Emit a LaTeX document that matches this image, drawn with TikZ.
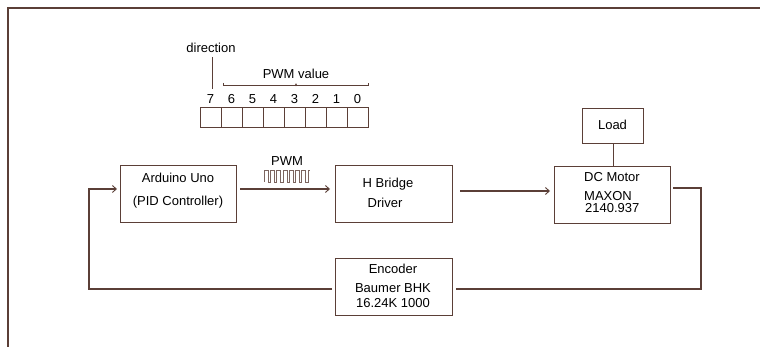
\documentclass[tikz,border=0pt]{standalone}
\usepackage{fontspec}
\setmainfont{Liberation Sans}
\usetikzlibrary{arrows.meta}
\definecolor{ln}{HTML}{5B3F37}
\tikzset{
  blk/.style={draw=ln, line width=1.4pt, inner sep=0pt, anchor=north west},
  cell/.style={draw=ln, line width=1.2pt, minimum width=21pt, minimum height=20pt, inner sep=0pt, anchor=north west},
  wire/.style={draw=ln, line width=1.4pt},
  arr/.style={wire, -{Straight Barb[length=4pt,width=7pt,line width=0.9pt]}},
  lbl/.style={font=\fontsize{13}{14}\selectfont, inner sep=0pt, text=black},
}
\begin{document}
\begin{tikzpicture}[x=1pt,y=-1pt]
\useasboundingbox (0,0) rectangle (760,347);
% frame
\draw[wire] (8,347) -- (8,8) -- (760,8);
% register
\foreach \i in {0,...,7} {
  \node[cell] (c\i) at ({200+21*\i},107) {};
  \pgfmathtruncatemacro{\b}{7-\i}
  \node[lbl] (d\i) at ({210.5+21*\i},99) {\b};
}
\node[lbl] (dir) at (211,48) {direction};
\coordinate (dirtop) at (212,57);
\coordinate (dirbot) at (212,89);
\draw[wire, line width=1pt] (dirtop) -- (dirbot);
\node[lbl] (pwmv) at (296,74) {PWM value};
\coordinate (brl) at (223,86);
\coordinate (brr) at (368,86);
\draw[wire, line width=1pt] ([yshift=3]brl) -- (brl) -- (brr) -- ([yshift=3]brr);
\draw[wire, line width=0.8pt] (295,86) -- (296,84) -- (297,86);
% blocks
\node[blk, minimum width=116pt, minimum height=57pt] (ard) at (120,165) {};
\node[lbl] at (178,178) {Arduino Uno};
\node[lbl] at (178,202) {(PID Controller)};
\node[blk, minimum width=117pt, minimum height=57pt] (hb) at (335,165) {};
\node[lbl] at (388,184) {H Bridge};
\node[lbl] at (385,203) {Driver};
\node[blk, minimum width=116pt, minimum height=57pt] (mot) at (554,166) {};
\node[lbl] at (612,177) {DC Motor};
\node[lbl, anchor=west] at (584,196) {MAXON};
\node[lbl, anchor=west] at (585,208) {2140.937};
\node[blk, minimum width=61pt, minimum height=35pt] (load) at (582,108) {};
\node[lbl] at (612.5,125) {Load};
\node[blk, minimum width=117pt, minimum height=57pt] (enc) at (335,258) {};
\node[lbl] at (393,269) {Encoder};
\node[lbl] at (393,288) {Baumer BHK};
\node[lbl] at (393,303) {16.24K 1000};
% PWM label and pulses
\node[lbl] (pwm) at (287,161) {PWM};
\draw[draw=ln!80, line width=0.8pt]
  (264,182) \foreach \k in {0,...,6} { -- ++(0,-12) -- ++(4,0) -- ++(0,12) -- ++(2.3,0) } -- ++(0,-12) -- ++(2,0);
% connectors
\coordinate (a1) at (240,189);
\coordinate (a2) at (330,189);
\draw[arr] (a1) -- (a2);
\coordinate (b1) at (460,191);
\coordinate (b2) at (550,191);
\draw[arr] (b1) -- (b2);
\draw[wire] (load.south) -- (load.south |- mot.north);
\coordinate (m1) at (673,188);
\coordinate (m2) at (701,188);
\coordinate (m3) at (701,289);
\coordinate (e1) at (456,289);
\draw[wire] (m1) -- (m2) -- (m3) -- (e1);
\coordinate (f1) at (332,289);
\coordinate (f2) at (89,289);
\coordinate (f3) at (89,189);
\coordinate (f4) at (117,189);
\draw[arr] (f1) -- (f2) -- (f3) -- (f4);
\end{tikzpicture}
\end{document}
